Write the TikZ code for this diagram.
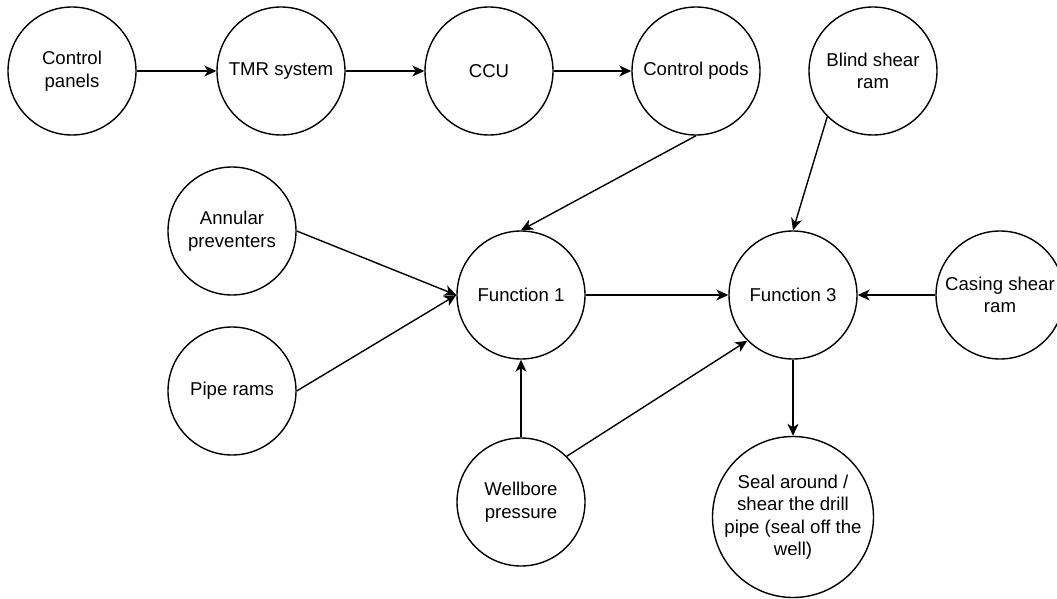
\documentclass[tikz,border=0pt]{standalone}
\usepackage{fontspec}
\setmainfont{Liberation Sans}
\usetikzlibrary{arrows.meta}
\begin{document}
\begin{tikzpicture}[x=1pt,y=-1pt,
  line width=1.4pt,
  bubble/.style={circle, draw=black, fill=white, minimum size=128pt, inner sep=0pt,
    label={[align=center, font=\fontsize{18.6}{22.5}\selectfont, inner sep=0pt]center:#1}},
  bigbubble/.style={bubble={#1}, minimum size=161pt},
  flow/.style={-{Stealth[length=12pt, width=11pt, inset=3.5pt]}}]
\useasboundingbox (0,0) rectangle (1057,599);

% nodes
\node[bubble={Control\\panels}]          (panels)   at (72,71)   {};
\node[bubble={TMR system}]               (tmr)      at (281,71)  {};
\node[bubble={CCU}]                      (ccu)      at (489,71)  {};
\node[bubble={Control pods}]             (pods)     at (696,71)  {};
\node[bubble={Blind shear\\ram}]         (blind)    at (873,71)  {};
\node[bubble={Annular\\preventers}]      (annular)  at (232,231) {};
\node[bubble={Pipe rams}]                (pipe)     at (232,391) {};
\node[bubble={Function 1}]               (f1)       at (521,295) {};
\node[bubble={Function 3}]               (f3)       at (793,295) {};
\node[bubble={Casing shear\\ram}]        (casing)   at (1000,295) {};
\node[bubble={Wellbore\\pressure}]       (well)     at (521,502) {};
\node[bigbubble={Seal around /\\shear the drill\\pipe (seal off the\\well)}] (seal) at (793,517) {};

% connectors
\draw[flow] (panels.east) -- (tmr.west);
\draw[flow] (tmr.east) -- (ccu.west);
\draw[flow] (ccu.east) -- (pods.west);
\draw[flow] (pods.south) -- (f1.north);
\draw[flow] (blind.south west) -- (f3.north);
\draw[flow] (annular.east) -- (f1.west);
\draw[flow] (pipe.east) -- (f1.west);
\draw[flow] (well.north) -- (f1.south);
\draw[flow] (well.north east) -- (f3.south west);
\draw[flow] (f1.east) -- (f3.west);
\draw[flow] (casing.west) -- (f3.east);
\draw[flow] (f3.south) -- (seal.north);
\end{tikzpicture}
\end{document}
